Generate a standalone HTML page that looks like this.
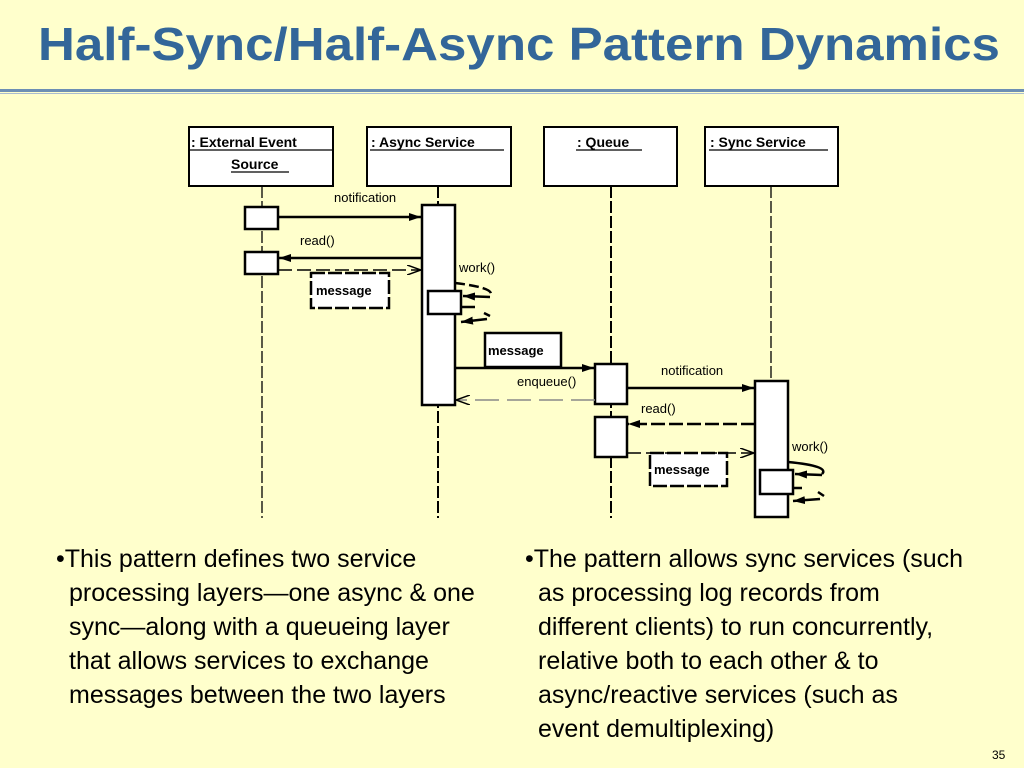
<!DOCTYPE html>
<html><head><meta charset="utf-8"><style>
body{margin:0;width:1024px;height:768px;background:#FFFFCC;position:relative;overflow:hidden;font-family:"Liberation Sans",sans-serif}
h1{position:absolute;left:38px;top:17px;margin:0;font-size:46px;font-weight:bold;color:#336699;white-space:nowrap;transform:scaleX(1.11);transform-origin:0 0}
.rule{position:absolute;left:0;top:89px;width:1024px;height:3px;background:#6d8fb4}
.rule2{position:absolute;left:0;top:93px;width:1024px;height:1px;background:#a9bcd0}
.col{position:absolute;top:542px;font-size:25px;line-height:34px;color:#000}
.col p{margin:0;padding-left:13px;text-indent:-13px}
.pg{position:absolute;left:992px;top:748px;font-size:12px}
</style></head><body>
<h1>Half-Sync/Half-Async Pattern Dynamics</h1>
<div class="rule"></div><div class="rule2"></div>
<svg width="1024" height="768" style="position:absolute;left:0;top:0" font-family="Liberation Sans, sans-serif">
<defs>
<marker id="f" markerWidth="12" markerHeight="8" refX="12" refY="4" orient="auto" markerUnits="userSpaceOnUse"><path d="M0,0 L12,4 L0,8z" fill="#000"/></marker>
<marker id="o" markerWidth="14" markerHeight="10" refX="14" refY="5" orient="auto" markerUnits="userSpaceOnUse"><path d="M0,0 L14,5 L0,10" fill="none" stroke="#000" stroke-width="1.5"/></marker>
</defs>
<g stroke="#000" fill="#fff" stroke-width="2">
<rect x="189" y="127" width="144" height="59"/>
<rect x="367" y="127" width="144" height="59"/>
<rect x="544" y="127" width="133" height="59"/>
<rect x="705" y="127" width="133" height="59"/>
</g>
<g stroke="#000" stroke-width="1.3" fill="none">
<line x1="189" y1="150" x2="333" y2="150"/>
<line x1="231" y1="172" x2="289" y2="172"/>
<line x1="370" y1="150" x2="504" y2="150"/>
<line x1="576" y1="150" x2="642" y2="150"/>
<line x1="709" y1="150" x2="828" y2="150"/>
<line x1="262" y1="186" x2="262" y2="518" stroke-dasharray="12,3"/>
<line x1="438" y1="186" x2="438" y2="518" stroke-width="2" stroke-dasharray="12,3"/>
<line x1="611" y1="186" x2="611" y2="518" stroke-width="2" stroke-dasharray="12,3"/>
<line x1="771" y1="186" x2="771" y2="518" stroke-dasharray="12,3"/>
</g>
<g font-size="14" font-weight="bold">
<text x="191" y="147">: External Event</text>
<text x="231" y="169">Source</text>
<text x="371" y="147">: Async Service</text>
<text x="577" y="147">: Queue</text>
<text x="710" y="147">: Sync Service</text>
</g>
<g stroke="#000" fill="#fff" stroke-width="2.5">
<rect x="422" y="205" width="33" height="200"/>
<rect x="245" y="207" width="33" height="22"/>
<rect x="245" y="252" width="33" height="22"/>
<rect x="428" y="291" width="33" height="23"/>
<rect x="311" y="273" width="78" height="35" stroke-dasharray="14,3"/>
<rect x="485" y="333" width="76" height="34"/>
<rect x="595" y="364" width="32" height="40"/>
<rect x="595" y="417" width="32" height="40"/>
<rect x="755" y="381" width="33" height="136"/>
<rect x="650" y="453" width="77" height="33" stroke-dasharray="14,3"/>
<rect x="760" y="470" width="33" height="24"/>
</g>
<g stroke="#000" stroke-width="2.5" fill="none">
<line x1="278" y1="217" x2="421" y2="217" marker-end="url(#f)"/>
<line x1="422" y1="258" x2="279" y2="258" marker-end="url(#f)"/>
<line x1="278" y1="270" x2="421" y2="270" stroke-dasharray="14,5" stroke-width="1.5" marker-end="url(#o)"/>
<path d="M455,283 Q497,288 490,296" stroke-dasharray="10,4"/>
<line x1="490" y1="297" x2="463" y2="296" marker-end="url(#f)"/>
<path d="M461,307 L475,307 M484,313 L490,316"/>
<line x1="487" y1="319" x2="461" y2="322" marker-end="url(#f)"/>
<line x1="455" y1="368" x2="594" y2="368" marker-end="url(#f)"/>
<line x1="595" y1="400" x2="456" y2="400" stroke="#888" stroke-width="1.5" stroke-dasharray="24,8" marker-end="url(#o)"/>
<line x1="627" y1="388" x2="754" y2="388" marker-end="url(#f)"/>
<line x1="755" y1="424" x2="628" y2="424" stroke-dasharray="14,4" marker-end="url(#f)"/>
<line x1="627" y1="453" x2="754" y2="453" stroke-dasharray="14,5" stroke-width="1.5" marker-end="url(#o)"/>
<path d="M788,462 Q830,466 822,474" />
<line x1="822" y1="475" x2="795" y2="474" marker-end="url(#f)"/>
<path d="M793,488 L802,488 M818,492 L824,496"/>
<line x1="820" y1="499" x2="793" y2="501" marker-end="url(#f)"/>
</g>
<g font-size="13">
<text x="334" y="202">notification</text>
<text x="300" y="245">read()</text>
<text x="459" y="272">work()</text>
<text x="517" y="386">enqueue()</text>
<text x="661" y="375">notification</text>
<text x="641" y="413">read()</text>
<text x="792" y="451">work()</text>
</g>
<g font-size="13" font-weight="bold">
<text x="316" y="295">message</text>
<text x="488" y="355">message</text>
<text x="654" y="474">message</text>
</g>
</svg>
<div class="col" style="left:56px;width:438px"><p>•This pattern defines two service processing layers—one async &amp; one sync—along with a queueing layer that allows services to exchange messages between the two layers</p></div>
<div class="col" style="left:525px;width:440px"><p>•The pattern allows sync services (such as processing log records from different clients) to run concurrently, relative both to each other &amp; to async/reactive services (such as event demultiplexing)</p></div>
<div class="pg">35</div>
</body></html>
